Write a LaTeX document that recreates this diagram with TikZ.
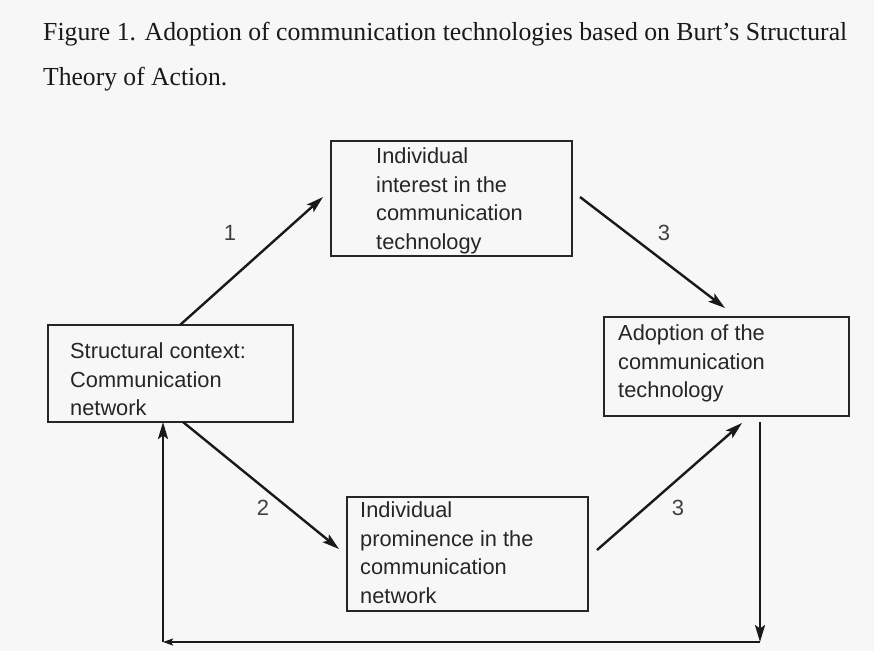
\documentclass[tikz,border=0pt]{standalone}
\usepackage{fontspec}
\setmainfont{Liberation Serif}
\setsansfont{Liberation Sans}
\usetikzlibrary{arrows.meta,calc}
\begin{document}
\begin{tikzpicture}[x=1pt,y=-1pt,
  box/.style={draw=black!85, line width=2.3pt, inner sep=0pt, outer sep=0pt, anchor=north west},
  boxtext/.style={anchor=north west, inner sep=0pt, align=left,
    font=\sffamily\fontsize{21.8}{28.8}\selectfont, text=black!85},
  flow/.style={line width=2.4pt, draw=black!90, -{Stealth[length=17pt,width=10pt,inset=3.5pt]}},
  num/.style={font=\sffamily\fontsize{22}{26}\selectfont, text=black!75},
  caption/.style={anchor=base west, inner sep=0pt, font=\fontsize{26}{30}\selectfont, text=black!90},
]
% page
\fill[white!97!black] (0,0) rectangle (874,651);
\useasboundingbox (0,0) rectangle (874,651);

% caption
\node[caption] (cap1) at (43,40)
  {\resizebox{804pt}{\height}{Figure 1. Adoption of communication technologies based on Burt's Structural}};
\node[caption] (cap2) at (43,85)
  {\resizebox{184pt}{\height}{Theory of Action.}};

% boxes
\node[box, minimum width=245pt, minimum height=97pt]  (ctx)      at (48,325)  {};
\node[box, minimum width=241pt, minimum height=115pt] (interest) at (331,141) {};
\node[box, minimum width=245pt, minimum height=99pt]  (adopt)    at (604,317) {};
\node[box, minimum width=241pt, minimum height=114pt] (prom)     at (347,497) {};

% box texts
\node[boxtext] (ctx-t)      at (70,338)  {\strut Structural context:\\Communication\\network};
\node[boxtext] (interest-t) at (376,143) {\strut Individual\\interest in the\\communication\\technology};
\node[boxtext] (adopt-t)    at (618,320) {\strut Adoption of the\\communication\\technology};
\node[boxtext] (prom-t)     at (360,497) {\strut Individual\\prominence in the\\communication\\network};

% causal paths
\draw[flow] ($(ctx.north west)+(132,0)$)    -- ($(interest.north west)+(-8,56)$);
\draw[flow] ($(interest.north east)+(8,56)$) -- ($(adopt.north west)+(121,-9)$);
\draw[flow] ($(ctx.south west)+(135,0)$)    -- ($(prom.north west)+(-8,52)$);
\draw[flow] ($(prom.north east)+(9,53)$)     -- ($(adopt.south west)+(138,7)$);

% feedback loop
\coordinate (loopR) at (760,642);
\coordinate (loopL) at (163,642);
\draw[flow] ($(adopt.south west)+(156,6)$) -- (loopR);
\draw[flow, -{Stealth[length=10pt,width=7pt,inset=2pt]}] (loopR) -- (loopL);
\draw[flow] (loopL) -- ($(ctx.south west)+(115,0)$);

% path labels
\node[num] (n1)  at (230,233) {1};
\node[num] (n3a) at (664,233) {3};
\node[num] (n2)  at (263,508) {2};
\node[num] (n3b) at (678,508) {3};
\end{tikzpicture}
\end{document}
